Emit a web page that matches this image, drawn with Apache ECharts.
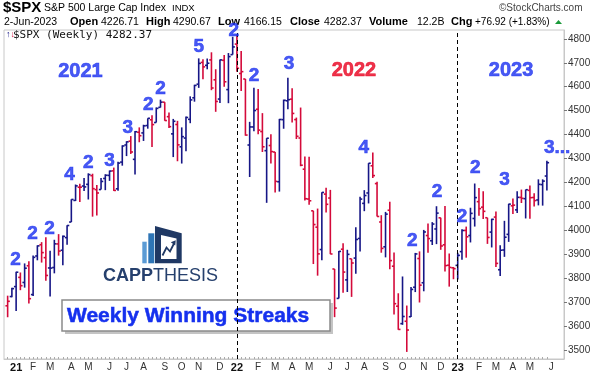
<!DOCTYPE html>
<html><head><meta charset="utf-8">
<script src="https://cdn.jsdelivr.net/npm/echarts@6/dist/echarts.min.js"></script>
<style>html,body{margin:0;padding:0;background:#fff}#c{width:594px;height:373px}</style>
</head><body><div id="c"></div>
<script>
// ---------- DATA (weekly, Monday of each week) ----------
const weeks = [
'2020-12-21','2020-12-28',
'2021-01-04','2021-01-11','2021-01-18','2021-01-25','2021-02-01','2021-02-08','2021-02-15','2021-02-22',
'2021-03-01','2021-03-08','2021-03-15','2021-03-22','2021-03-29','2021-04-05','2021-04-12','2021-04-19',
'2021-04-26','2021-05-03','2021-05-10','2021-05-17','2021-05-24','2021-05-31','2021-06-07','2021-06-14',
'2021-06-21','2021-06-28','2021-07-05','2021-07-12','2021-07-19','2021-07-26','2021-08-02','2021-08-09',
'2021-08-16','2021-08-23','2021-08-30','2021-09-06','2021-09-13','2021-09-20','2021-09-27','2021-10-04',
'2021-10-11','2021-10-18','2021-10-25','2021-11-01','2021-11-08','2021-11-15','2021-11-22','2021-11-29',
'2021-12-06','2021-12-13','2021-12-20','2021-12-27',
'2022-01-03','2022-01-10','2022-01-17','2022-01-24','2022-01-31','2022-02-07','2022-02-14','2022-02-21',
'2022-02-28','2022-03-07','2022-03-14','2022-03-21','2022-03-28','2022-04-04','2022-04-11','2022-04-18',
'2022-04-25','2022-05-02','2022-05-09','2022-05-16','2022-05-23','2022-05-30','2022-06-06','2022-06-13',
'2022-06-20','2022-06-27','2022-07-04','2022-07-11','2022-07-18','2022-07-25','2022-08-01','2022-08-08',
'2022-08-15','2022-08-22','2022-08-29','2022-09-05','2022-09-12','2022-09-19','2022-09-26','2022-10-03',
'2022-10-10','2022-10-17','2022-10-24','2022-10-31','2022-11-07','2022-11-14','2022-11-21','2022-11-28',
'2022-12-05','2022-12-12','2022-12-19','2022-12-26',
'2023-01-02','2023-01-09','2023-01-16','2023-01-23','2023-01-30','2023-02-06','2023-02-13','2023-02-20',
'2023-02-27','2023-03-06','2023-03-13','2023-03-20','2023-03-27','2023-04-03','2023-04-10','2023-04-17',
'2023-04-24','2023-05-01','2023-05-08','2023-05-15','2023-05-22','2023-05-29'
];
const opens = [
3684.3,3723.0,
3764.6,3803.1,3781.9,3851.7,3731.2,3892.6,3939.6,3885.6,
3842.5,3844.4,3942.9,3916.5,3969.3,4034.4,4124.7,4179.8,
4185.0,4191.9,4228.3,4169.9,4170.2,4216.5,4229.3,4248.3,
4173.4,4284.9,4356.5,4372.4,4296.4,4409.6,4406.9,4437.8,
4461.7,4450.3,4513.8,4535.4,4474.8,4402.9,4442.1,4348.8,
4385.4,4463.7,4553.7,4610.6,4701.5,4689.3,4712.0,4628.8,
4548.4,4710.3,4587.9,4734.0,
4778.1,4655.3,4632.2,4356.3,4431.8,4505.8,4412.6,4332.7,
4354.2,4327.0,4202.8,4462.4,4541.1,4548.0,4462.6,4385.6,
4255.3,4130.6,4081.3,4013.0,3919.4,4151.1,4134.7,3838.2,
3715.3,3920.8,3792.6,3880.9,3883.8,3965.7,4112.4,4155.9,
4269.4,4195.1,4034.6,3930.9,4083.7,3849.9,3682.7,3609.8,
3619.7,3638.7,3762.0,3881.9,3780.7,3978.0,3956.2,4005.4,
4052.0,3939.3,3853.8,3843.3,
3853.3,3910.8,3999.3,3978.1,4049.3,4119.6,4096.6,4052.4,
3992.4,4055.1,3835.1,3917.5,3982.9,4102.2,4085.2,4137.2,
4132.1,4166.8,4137.0,4126.7,4190.8,4226.7
];
const highs = [
3726.7,3760.2,
3826.7,3823.6,3861.5,3870.9,3894.6,3937.0,3950.4,3971.1,
3914.5,3960.3,3983.9,3978.2,4020.6,4129.5,4191.3,4194.2,
4218.8,4238.0,4236.4,4188.7,4218.4,4234.1,4249.7,4262.0,
4286.1,4355.0,4372.0,4393.7,4415.2,4430.0,4441.0,4468.0,
4480.3,4513.3,4545.9,4535.4,4492.0,4465.4,4457.3,4430.0,
4475.8,4559.7,4608.1,4718.5,4714.9,4717.8,4743.8,4673.0,
4713.6,4732.0,4740.7,4808.9,
4818.6,4748.8,4632.2,4453.2,4595.3,4590.0,4489.6,4385.0,
4401.5,4327.0,4465.4,4546.0,4637.3,4593.5,4471.0,4512.9,
4308.5,4307.7,4081.3,4090.7,4158.5,4177.5,4168.8,3838.2,
3913.7,3945.9,3918.5,3880.9,4012.4,4140.2,4167.7,4280.5,
4325.3,4203.0,4063.0,4076.8,4119.3,3907.1,3736.7,3806.9,
3685.4,3762.8,3905.4,3911.8,4001.5,4028.8,4034.0,4100.5,
4052.5,4101.0,3902.9,3846.7,
3906.0,4004.0,4015.4,4094.2,4195.4,4176.5,4163.0,4052.4,
4048.3,4078.5,3937.3,4039.5,4110.8,4133.1,4163.2,4170.0,
4170.1,4186.9,4154.3,4212.9,4212.9,4290.7
];
const lows = [
3636.5,3720.0,
3662.7,3749.6,3760.2,3694.1,3725.6,3874.5,3865.0,3789.5,
3723.3,3820.0,3894.0,3853.5,3939.3,4034.4,4122.5,4118.4,
4164.0,4128.6,4056.9,4061.4,4170.2,4167.6,4206.4,4164.4,
4165.0,4270.0,4310.0,4318.9,4233.1,4367.9,4373.3,4424.6,
4347.8,4450.3,4513.0,4457.7,4427.8,4305.9,4288.5,4278.9,
4329.9,4447.5,4537.4,4595.1,4630.9,4672.8,4585.4,4495.1,
4532.4,4600.2,4531.1,4734.0,
4662.7,4582.2,4395.3,4222.6,4414.0,4401.4,4327.2,4114.7,
4279.5,4157.9,4161.7,4424.3,4506.1,4450.0,4381.3,4267.6,
4124.3,4106.2,3858.9,3810.3,3875.1,4073.9,3900.2,3636.9,
3715.3,3738.7,3742.1,3721.6,3818.6,3911.2,4079.8,4112.1,
4218.7,4057.7,3906.2,3886.8,3837.1,3647.5,3584.1,3604.9,
3491.6,3638.0,3741.7,3698.2,3745.0,3906.5,3938.4,3942.1,
3918.4,3827.9,3764.5,3795.4,
3794.3,3877.3,3885.5,3949.1,4015.5,4060.8,4047.5,3943.1,
3928.2,3847.0,3808.9,3888.9,3951.5,4068.5,4072.5,4113.9,
4049.4,4048.3,4098.9,4104.0,4103.0,4166.2
];
const closes = [
3703.1,3756.1,
3824.7,3768.3,3841.5,3714.2,3886.8,3934.8,3906.7,3811.2,
3841.9,3943.3,3913.1,3974.5,4019.9,4128.8,4185.5,4180.2,
4181.2,4232.6,4173.9,4155.9,4204.1,4229.9,4247.4,4166.5,
4280.7,4352.3,4369.6,4327.2,4411.8,4395.3,4436.5,4468.0,
4441.7,4509.4,4535.4,4458.6,4433.0,4455.5,4357.0,4391.3,
4471.4,4544.9,4605.4,4697.5,4682.9,4698.0,4594.6,4538.4,
4712.0,4620.6,4725.8,4766.2,
4677.0,4662.9,4397.9,4431.9,4500.5,4418.6,4348.9,4384.7,
4328.9,4204.3,4463.1,4543.1,4545.9,4488.3,4392.6,4271.8,
4131.9,4123.3,4023.9,3901.4,4158.2,4108.5,3900.9,3674.8,
3911.7,3825.3,3899.4,3863.2,3961.6,4130.3,4145.2,4280.2,
4228.5,4057.7,3924.3,4067.4,3873.3,3693.2,3585.6,3639.7,
3583.1,3752.8,3901.1,3770.6,3992.9,3965.3,4026.1,4071.7,
3934.4,3852.4,3844.8,3839.5,
3895.1,3999.1,3972.6,4070.6,4136.5,4090.5,4079.1,3970.0,
4045.6,3861.6,3916.6,3971.0,4109.3,4105.0,4137.6,4133.5,
4169.5,4136.3,4124.1,4192.0,4205.5,4282.4
];
const prevClose = 3709.4; // close of the week before the first bar
const monthLetters = ['J','F','M','A','M','J','J','A','S','O','N','D'];
const monthLabelRange = ['2021-01','2023-06']; // first and last month labelled on the time axis
const yTickValues = [3500,3600,3700,3800,3900,4000,4100,4200,4300,4400,4500,4600,4700,4800];
const yearLineWeeks = ['2022-01-03','2023-01-02'];
// streak annotations: text, date, price
const streakTexts  = ['2','2','2','4','2','3','3','2','2','5','2','2','3','4','2','2','2','2','3','3...'];
const streakDates  = ['2021-01-03','2021-01-31','2021-02-28','2021-04-02','2021-05-03','2021-06-07','2021-07-07',
                      '2021-08-10','2021-08-30','2021-11-01','2021-12-29','2022-01-31','2022-03-30','2022-07-31',
                      '2022-10-19','2022-11-29','2023-01-09','2023-01-31','2023-03-20','2023-06-15'];
const streakPrices = [3876,3985,4006,4231,4281,4290,4428,4524,4591,4766,4833,4645,4695,4344,3955,4160,4056,4261,4210,4344];
const yearTexts  = ['2021','2022','2023'];
const yearDates  = ['2021-04-20','2022-07-15','2023-03-31'];
const yearPrices = [4662,4666,4666];

// ---------- BUILD ----------
function d(s){const p=s.split('-');return new Date(+p[0],+p[1]-1,+p[2],12).getTime();}
const UP='#161686', DOWN='#d40a3a', BLUE='#1a2ff0';
const ohlc = weeks.map((w,i)=>[d(w),opens[i],highs[i],lows[i],closes[i],
  closes[i] >= (i ? closes[i-1] : prevClose) ? 1 : 0]);
const weekTimes = weeks.map(d);
// month labels: first Monday of each calendar month in range
const monthStarts = [];
(function(){
  const a=monthLabelRange[0].split('-'), b=monthLabelRange[1].split('-');
  let y=+a[0], m=+a[1]-1; const ye=+b[0], me=+b[1]-1;
  while(y<ye || (y===ye && m<=me)){
    const dt=new Date(y,m,1,12); while(dt.getDay()!==1) dt.setDate(dt.getDate()+1);
    monthStarts.push(dt.getTime()); m++; if(m>11){m=0;y++;}
  }
})();

const annData = streakTexts.map((t,i)=>({value:[d(streakDates[i]),streakPrices[i]],name:t}));
const yearData = yearTexts.map((t,i)=>({value:[d(yearDates[i]),yearPrices[i]],name:t,
  label:{color: i===1 ? '#e8001e' : BLUE, textBorderColor: i===1 ? '#e8001e' : BLUE}}));

const chart = echarts.init(document.getElementById('c'),null,{renderer:'canvas'});
const F='"Liberation Sans", Arial, sans-serif';
function T(x,y,text,size,bold,fill){
  return {type:'text',x:x,y:y,silent:true,style:{text:text,fill:fill||'#000',
    font:(bold?'bold ':'')+size+'px '+F,verticalAlign:'middle'}};
}
const header = [
  T(3,8,'$SPX',15,true,'#000'),
  T(44,8,'S&P 500 Large Cap Index',10.5,false,'#000'),
  T(172,8,'INDX',9.5,false,'#000'),
  T(499,8,'©StockCharts.com',10,false,'#444'),
  T(4,22,'2-Jun-2023',10.5,false,'#000'),
  T(70,22,'Open',11,true,'#000'), T(101,22,'4226.71',10.5,false,'#000'),
  T(146,22,'High',11,true,'#000'), T(173,22,'4290.67',10.5,false,'#000'),
  T(218,22,'Low',11,true,'#000'), T(244,22,'4166.15',10.5,false,'#000'),
  T(290,22,'Close',11,true,'#000'), T(324,22,'4282.37',10.5,false,'#000'),
  T(369,22,'Volume',11,true,'#000'), T(417,22,'12.2B',10.5,false,'#000'),
  T(451,22,'Chg',11,true,'#000'), T(475,22,'+76.92 (+1.83%)',10,false,'#000'),
  {type:'polygon',silent:true,shape:{points:[[555,24],[562,24],[558.5,20]]},style:{fill:'#1a9a3a'}},
  {type:'text',x:6,y:35,silent:true,style:{text:'{u|↑}{d|↓}',verticalAlign:'middle',
    rich:{u:{fill:UP,font:'bold 9px '+F},d:{fill:DOWN,font:'bold 9px '+F}}}},
  {type:'text',x:13,y:35,silent:true,style:{text:'$SPX (Weekly) 4282.37',fill:'#111',
    font:'11px "DejaVu Sans Mono", monospace',verticalAlign:'middle'}},
  {type:'rect',silent:true,shape:{x:142.3,y:241.7,width:4.4,height:21.6},style:{fill:'#5b9bd5'}},
  {type:'rect',silent:true,shape:{x:148.3,y:233.3,width:6,height:30},style:{fill:'#2e75b6'}},
  {type:'polygon',silent:true,shape:{points:[[155,226],[181.7,233.3],[181.7,263.3],[155,263.3]]},style:{fill:'#1f3864'}},
  {type:'polygon',silent:true,shape:{points:[[161,235],[176.5,238.5],[176.5,259],[161,259]]},style:{fill:'#fff'}},
  {type:'polyline',silent:true,shape:{points:[[162.5,255.5],[166.5,247.5],[170,251.5],[174,243.5]]},style:{stroke:'#1f3864',lineWidth:1.8,fill:null}},
  {type:'polygon',silent:true,shape:{points:[[175.8,240.2],[170.8,242.2],[175.2,245.6]]},style:{fill:'#1f3864'}},
  {type:'text',x:103,y:276.5,silent:true,style:{text:'{a|CAPP}{b|THESIS}',verticalAlign:'middle',
    rich:{a:{fill:'#26406d',font:'bold 18px '+F},b:{fill:'#26406d',font:'18px '+F}}}},
  {type:'rect',silent:true,shape:{x:65,y:303,width:268,height:31},style:{fill:'#c4c4c4'}},
  {type:'rect',silent:true,shape:{x:62,y:300,width:268,height:31},style:{fill:'#fff',stroke:'#8a8a8a',lineWidth:1.5}},
  {type:'text',x:67,y:316.5,silent:true,style:{text:'Weekly Winning Streaks',fill:'#1530ee',
    font:'bold 21px '+F,verticalAlign:'middle',stroke:'#1530ee',lineWidth:0.5}}
];

chart.setOption({
  animation:false,
  backgroundColor:'#fff',
  grid:{left:4,right:30,top:30,bottom:14,show:true,borderColor:'#c8c8c8',borderWidth:1},
  xAxis:{type:'value',min:d('2020-12-15'),max:new Date(2023,5,26,17).getTime(),
    axisLine:{show:true,onZero:false,lineStyle:{color:'#c8c8c8'}},
    axisTick:{show:true,inside:true,length:2,customValues:weekTimes,lineStyle:{color:'#aaa'}},
    axisLabel:{show:true,customValues:monthStarts,margin:3,fontSize:10,color:'#333',fontFamily:F,
      hideOverlap:false,showMinLabel:true,showMaxLabel:true,
      formatter:function(v){const dt=new Date(v);const m=dt.getMonth();
        return m===0 ? '{y|'+String(dt.getFullYear()).slice(2)+'}' : monthLetters[m];},
      rich:{y:{fontWeight:'bold',fontSize:11,color:'#111',fontFamily:F}}},
    splitLine:{show:false}},
  yAxis:{type:'value',position:'right',min:3462,max:4837,
    axisLine:{show:true,lineStyle:{color:'#c8c8c8'}},
    axisTick:{show:true,length:3,customValues:yTickValues,lineStyle:{color:'#777'}},
    axisLabel:{show:true,customValues:yTickValues,margin:4,fontSize:10,color:'#333',fontFamily:F,
      showMinLabel:true,showMaxLabel:true,formatter:function(v){return String(v);}},
    splitLine:{show:false}},
  series:[
    {type:'custom',data:ohlc,encode:{x:0,y:[1,2,3,4]},
      renderItem:function(params,api){
        const x=api.value(0);
        const o=api.coord([x,api.value(1)]), h=api.coord([x,api.value(2)]),
              l=api.coord([x,api.value(3)]), c=api.coord([x,api.value(4)]);
        const col=api.value(5)?UP:DOWN, tk=2.2, lw=1.6;
        return {type:'group',children:[
          {type:'line',shape:{x1:h[0],y1:h[1],x2:l[0],y2:l[1]},style:{stroke:col,lineWidth:lw}},
          {type:'line',shape:{x1:o[0]-tk,y1:o[1],x2:o[0],y2:o[1]},style:{stroke:col,lineWidth:lw}},
          {type:'line',shape:{x1:c[0],y1:c[1],x2:c[0]+tk,y2:c[1]},style:{stroke:col,lineWidth:lw}}
        ]};
      },
      markLine:{silent:true,symbol:['none','none'],label:{show:false},
        lineStyle:{color:'#000',type:[4,3],width:1},
        data:yearLineWeeks.map(w=>({xAxis:d(w)}))}
    },
    {type:'scatter',data:annData,symbolSize:0,silent:true,z:5,
      label:{show:true,position:'inside',formatter:'{b}',color:BLUE,fontSize:19,fontWeight:'bold',fontFamily:F,
        textBorderColor:BLUE,textBorderWidth:0.6}},
    {type:'scatter',data:yearData,symbolSize:0,silent:true,z:5,
      label:{show:true,position:'inside',formatter:'{b}',fontSize:20,fontWeight:'bold',fontFamily:F,
        textBorderWidth:0.6}}
  ],
  graphic:header
});
</script></body></html>
